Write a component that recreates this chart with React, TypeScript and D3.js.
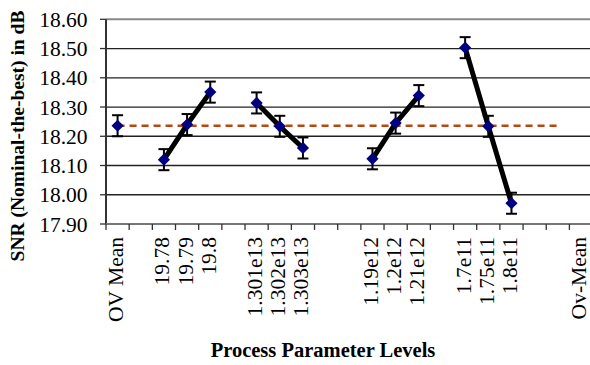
import React from "react";
import * as d3 from "d3";

const categories = [
  "OV Mean", "", "19.78", "19.79", "19.8", "", "1.301e13", "1.302e13", "1.303e13",
  "", "", "1.19e12", "1.2e12", "1.21e12", "", "1.7e11", "1.75e11", "1.8e11", "", "", "Ov-Mean",
];
const yTicks = [17.9, 18.0, 18.1, 18.2, 18.3, 18.4, 18.5, 18.6];
const overallMean = 18.236;
const errorMargin = 0.036;

const factor1Levels = ["19.78", "19.79", "19.8"];
const factor1SNR = [18.12, 18.24, 18.351];
const factor2Levels = ["1.301e13", "1.302e13", "1.303e13"];
const factor2SNR = [18.314, 18.234, 18.16];
const factor3Levels = ["1.19e12", "1.2e12", "1.21e12"];
const factor3SNR = [18.123, 18.245, 18.339];
const factor4Levels = ["1.7e11", "1.75e11", "1.8e11"];
const factor4SNR = [18.503, 18.234, 17.971];
const meanLineFrom = "OV Mean";
const meanLineToIndex = 19;

const W = 590;
const H = 365;
const left = 106;
const bandW = 23.17;
const top = 19.3;
const bottom = 224;
const FONT = "Liberation Serif, Times New Roman, DejaVu Serif, serif";

export default function App() {
  const ids = categories.map((_, i) => String(i));
  const x = d3.scaleBand<string>().domain(ids).range([left, left + bandW * categories.length]).padding(0);
  const y = d3.scaleLinear().domain([17.9, 18.6]).range([bottom, top]);
  const cx = (i: number) => (x(String(i)) as number) + x.bandwidth() / 2;
  const idxOf = (label: string) => categories.indexOf(label);

  const groups = [
    { levels: factor1Levels, snr: factor1SNR },
    { levels: factor2Levels, snr: factor2SNR },
    { levels: factor3Levels, snr: factor3SNR },
    { levels: factor4Levels, snr: factor4SNR },
  ];

  const line = d3
    .line<{ i: number; v: number }>()
    .x((d) => cx(d.i))
    .y((d) => y(d.v));

  const points: { i: number; v: number }[] = [{ i: idxOf(meanLineFrom), v: overallMean }];
  groups.forEach((g) => g.levels.forEach((l, k) => points.push({ i: idxOf(l), v: g.snr[k] })));

  const diamond = d3.symbol().type(d3.symbolDiamond2).size(95)();

  const boundaries = d3.range(categories.length + 1).map((i) => left + i * bandW);
  const txt = { fontFamily: FONT };

  return (
    <svg width={W} height={H} style={{ position: "absolute", left: 0, top: 0, background: "#fff", fontFamily: FONT }}>
      {yTicks.map((t) =>
        t === 17.9 ? null : (
          <line
            key={t}
            x1={left}
            x2={W}
            y1={y(t)}
            y2={y(t)}
            stroke={t === 18.6 ? "#888" : "#222"}
            strokeWidth={t === 18.6 ? 2 : 1.3}
          />
        )
      )}
      <line x1={left} x2={left} y1={top} y2={bottom} stroke="#333" strokeWidth={2} />
      {yTicks.map((t) => (
        <g key={"yt" + t}>
          <line x1={left - 6} x2={left} y1={y(t)} y2={y(t)} stroke="#333" strokeWidth={1.3} />
          <text x={87.5} y={y(t) + 7.5} textAnchor="end" style={txt} fontSize={21.5}>
            {t.toFixed(2)}
          </text>
        </g>
      ))}
      <line x1={left} x2={W} y1={bottom} y2={bottom} stroke="#777" strokeWidth={2.2} />
      {boundaries.map((b, i) => (
        <line key={"xt" + i} x1={b} x2={b} y1={bottom} y2={bottom + 6} stroke="#333" strokeWidth={1.3} />
      ))}
      {categories.map((c, i) =>
        c ? (
          <text
            key={"xl" + i}
            transform={`translate(${cx(i) + 5.5},237) rotate(-90)`}
            textAnchor="end"
            style={txt}
            fontSize={21.5}
          >
            {c}
          </text>
        ) : null
      )}
      <line
        x1={cx(idxOf(meanLineFrom))}
        x2={cx(meanLineToIndex)}
        y1={y(overallMean)}
        y2={y(overallMean)}
        stroke="#B8470F"
        strokeWidth={2.5}
        strokeDasharray="7,5"
      />
      {groups.map((g, gi) => (
        <path
          key={"g" + gi}
          d={line(g.levels.map((l, k) => ({ i: idxOf(l), v: g.snr[k] }))) || ""}
          fill="none"
          stroke="#000"
          strokeWidth={5}
          strokeLinejoin="round"
        />
      ))}
      {points.map((p, k) => {
        const px = cx(p.i);
        const y1 = y(p.v + errorMargin);
        const y2 = y(p.v - errorMargin);
        return (
          <g key={"eb" + k} stroke="#000" strokeWidth={2}>
            <line x1={px} x2={px} y1={y1} y2={y2} />
            <line x1={px - 5.5} x2={px + 5.5} y1={y1} y2={y1} />
            <line x1={px - 5.5} x2={px + 5.5} y1={y2} y2={y2} />
          </g>
        );
      })}
      {points.map((p, k) => (
        <path key={"m" + k} d={diamond || ""} transform={`translate(${cx(p.i)},${y(p.v)})`} fill="#000080" />
      ))}
      <text
        transform="translate(24,136) rotate(-90)"
        textAnchor="middle"
        style={txt}
        fontSize={19.5}
        fontWeight="bold"
      >
        SNR (Nominal-the-best)  in dB
      </text>
      <text x={323} y={357} textAnchor="middle" style={txt} fontSize={20.5} fontWeight="bold">
        Process Parameter Levels
      </text>
    </svg>
  );
}
